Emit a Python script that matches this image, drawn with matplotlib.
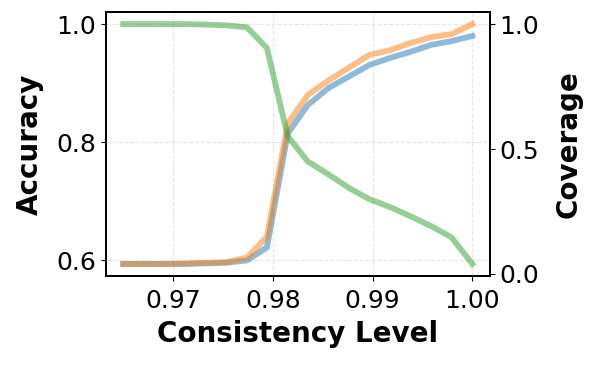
import numpy as np
import matplotlib
matplotlib.use("Agg")
import matplotlib.pyplot as plt

# Consistency thresholds (x axis)
consistency = [0.965, 0.9671, 0.9691, 0.9712, 0.9732, 0.9753, 0.9774, 0.9794, 0.9815,
               0.9835, 0.9856, 0.9876, 0.9897, 0.9918, 0.9938, 0.9959, 0.9979, 1.0]

# Accuracy curves (left axis)
acc_blue = [0.594, 0.594, 0.594, 0.594, 0.595, 0.596, 0.600, 0.622, 0.815,
            0.863, 0.892, 0.911, 0.931, 0.943, 0.953, 0.965, 0.971, 0.980]
acc_orange = [0.594, 0.594, 0.594, 0.595, 0.596, 0.597, 0.605, 0.640, 0.832,
              0.880, 0.905, 0.926, 0.948, 0.956, 0.968, 0.978, 0.983, 1.000]

# Coverage curve (right axis)
coverage = [1.0, 1.0, 1.0, 1.0, 0.998, 0.995, 0.987, 0.904, 0.550,
            0.450, 0.398, 0.345, 0.299, 0.267, 0.231, 0.191, 0.147, 0.040]

fig = plt.figure(figsize=(5.98, 3.66), dpi=100)
ax = fig.add_subplot(111)
fig.subplots_adjust(left=0.177, right=0.819, top=0.967, bottom=0.246)

lw = 4.2
ax.plot(consistency, acc_blue, color="tab:blue", alpha=0.5, linewidth=lw)
ax.plot(consistency, acc_orange, color="tab:orange", alpha=0.5, linewidth=lw)
ax.set_xlabel("Consistency Level", fontsize=20, fontweight="bold", labelpad=5)
ax.set_ylabel("Accuracy", fontsize=20, fontweight="bold", labelpad=9)
ax.grid(True, linestyle="--", alpha=0.3)
ax.tick_params(labelsize=18)
ax.tick_params(axis="x", pad=6)

ax2 = ax.twinx()
ax2.plot(consistency, coverage, color="tab:green", alpha=0.5, linewidth=lw)
ax2.set_ylabel("Coverage", fontsize=20, fontweight="bold", labelpad=11)
ax2.tick_params(labelsize=18)

ax.set_xticks([0.97, 0.98, 0.99, 1.00])
ax.set_yticks([0.6, 0.8, 1.0])
ax2.set_yticks([0.0, 0.5, 1.0])

for a in (ax, ax2):
    for s in a.spines.values():
        s.set_linewidth(1.3)

fig.savefig("out.png", dpi=100)
